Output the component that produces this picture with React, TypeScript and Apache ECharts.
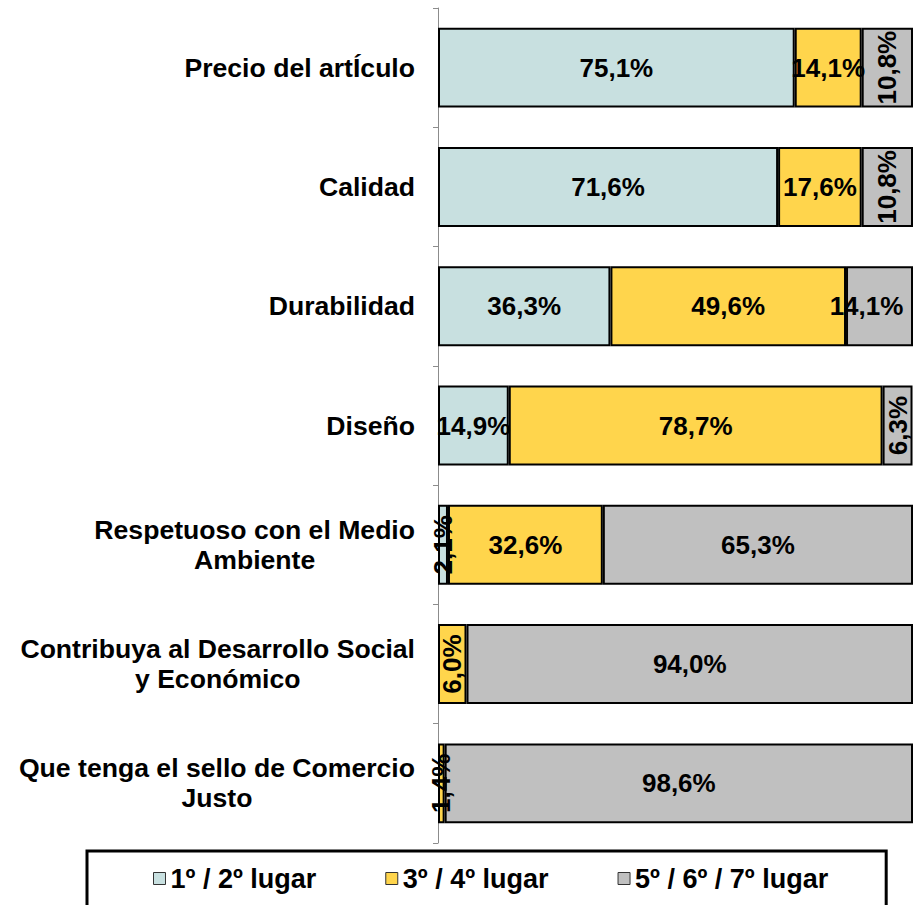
import React, { useEffect, useRef } from "react";
import * as echarts from "echarts";

const categories = [
  "Precio del artÍculo",
  "Calidad",
  "Durabilidad",
  "Diseño",
  "Respetuoso con el Medio\nAmbiente",
  "Contribuya al Desarrollo Social\ny Económico",
  "Que tenga el sello de Comercio\nJusto",
];
const seriesNames = ["1º / 2º lugar", "3º / 4º lugar", "5º / 6º / 7º lugar"];
const firstSecond = [75.1, 71.6, 36.3, 14.9, 2.1, null, null];
const thirdFourth = [14.1, 17.6, 49.6, 78.7, 32.6, 6.0, 1.4];
const fifthToSeventh = [10.8, 10.8, 14.1, 6.3, 65.3, 94.0, 98.6];
// which labels are drawn rotated (narrow segments)
const rotatedFirst = [false, false, false, false, true, false, false];
const rotatedSecond = [false, false, false, false, false, true, true];
const rotatedThird = [true, true, false, true, false, false, false];
// labels nudged to stay inside the chart area
const shiftedThird = [false, false, true, false, false, false, false];
const noShift = [false, false, false, false, false, false, false];
const colors = ["#C8E0E0", "#FFD54C", "#C0C0C0"];

const FONT = "'Liberation Sans', Arial, sans-serif";

function buildData(
  values: (number | null)[],
  rotated: boolean[],
  shifted: boolean[]
) {
  return values.map((v, i) => {
    if (v == null) return "-";
    if (rotated[i]) return { value: v, label: { rotate: 90 } };
    if (shifted[i]) return { value: v, label: { offset: [-13, 0] } };
    return v;
  });
}

export default function App() {
  const ref = useRef<HTMLDivElement>(null);
  useEffect(() => {
    document.body.style.margin = "0";
    const chart = echarts.init(ref.current!, null, { renderer: "svg" });
    const labelStyle = {
      show: true,
      position: "inside",
      fontSize: 26,
      fontWeight: "bold",
      fontFamily: FONT,
      color: "#000",
      formatter: (p: any) =>
        p.value == null || p.value === "-"
          ? ""
          : Number(p.value).toFixed(1).replace(".", ",") + "%",
    };
    const datasets = [
      buildData(firstSecond, rotatedFirst, noShift),
      buildData(thirdFourth, rotatedSecond, noShift),
      buildData(fifthToSeventh, rotatedThird, shiftedThird),
    ];
    chart.setOption({
      animation: false,
      grid: { left: 438, right: 5, top: 8, bottom: 62, containLabel: false },
      legend: {
        data: seriesNames,
        left: 87,
        top: 851,
        padding: [14, 58, 30, 66],
        borderColor: "#000",
        borderWidth: 3,
        itemGap: 69,
        itemWidth: 12,
        itemHeight: 12,
        icon: "rect",
        itemStyle: { borderColor: "#333", borderWidth: 1 },
        textStyle: {
          fontSize: 27,
          fontWeight: "bold",
          fontFamily: FONT,
          color: "#000",
        },
      },
      xAxis: { type: "value", min: 0, max: 100, show: false },
      yAxis: {
        type: "category",
        data: categories,
        inverse: true,
        axisLine: { show: true, lineStyle: { color: "#8c8c8c", width: 1 } },
        axisTick: { show: true, length: 5, lineStyle: { color: "#8c8c8c" } },
        axisLabel: {
          margin: 23,
          color: "#000",
          formatter: (v: string) =>
            v
              .split("\n")
              .map((l) => `{c|${l}}`)
              .join("\n"),
          rich: {
            c: {
              fontSize: 26.6,
              fontWeight: "bold",
              fontFamily: FONT,
              color: "#000",
              align: "center",
              lineHeight: 30,
            },
          },
        },
      },
      series: seriesNames.map((name, i) => ({
        name,
        type: "bar",
        stack: "total",
        barWidth: "67%",
        data: datasets[i],
        itemStyle: { color: colors[i], borderColor: "#000", borderWidth: 2 },
        label: labelStyle,
      })),
    });
    return () => chart.dispose();
  }, []);
  return <div ref={ref} style={{ width: 918, height: 905 }} />;
}
